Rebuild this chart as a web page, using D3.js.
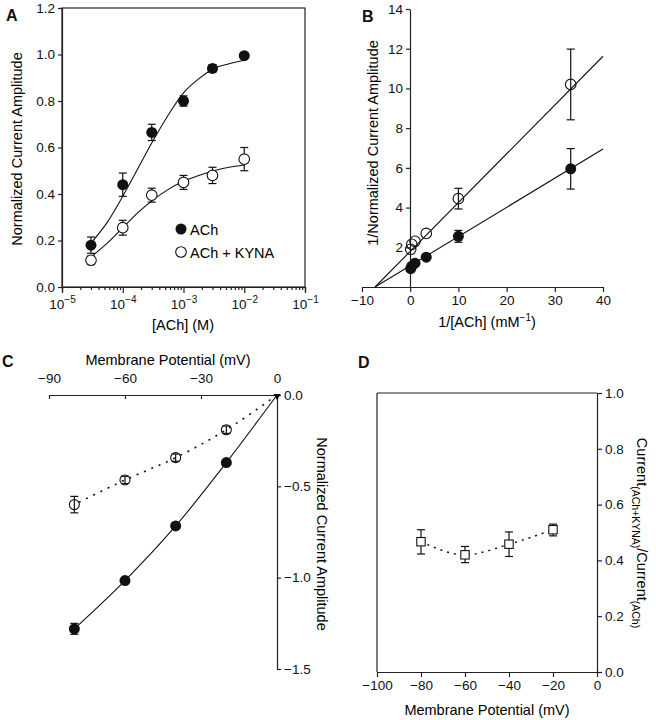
<!DOCTYPE html>
<html>
<head>
<meta charset="utf-8">
<script src="https://cdn.jsdelivr.net/npm/d3@7"></script>
<style>
  body { margin: 0; background: #fff; }
  svg { font-family: "Liberation Sans", Arial, Helvetica, sans-serif; }
  .domain, .tick line { stroke: #222; }
  .tick text { fill: #111; }
</style>
</head>
<body>
<div id="fig"></div>
<script>
// ! Data

// Panel A: concentration-response (M)
var a_conc = [3e-5, 1e-4, 3e-4, 1e-3, 3e-3, 1e-2];
var a_ach = [0.18, 0.44, 0.665, 0.80, 0.94, 0.995];
var a_ach_err = [0.035, 0.05, 0.035, 0.022, 0.016, 0.006];
var a_kyna = [0.115, 0.255, 0.395, 0.45, 0.48, 0.55];
var a_kyna_err = [0.018, 0.032, 0.03, 0.03, 0.035, 0.05];
// fitted curves (log10 concentration)
var a_fit_logx = [-4.52, -4.25, -4.0, -3.75, -3.5, -3.25, -3.0, -2.75, -2.5, -2.25, -2.0];
var a_fit_ach = [0.19, 0.28, 0.39, 0.51, 0.63, 0.74, 0.835, 0.895, 0.94, 0.96, 0.975];
var a_fit_kyna = [0.13, 0.19, 0.255, 0.32, 0.375, 0.42, 0.455, 0.48, 0.50, 0.515, 0.525];
var a_decades = [1e-5, 1e-4, 1e-3, 1e-2, 1e-1];
var a_exponents = ["-5", "-4", "-3", "-2", "-1"];

// Panel B: double reciprocal
var b_inv = [0.1, 0.33, 1, 3.33, 10, 33.3];
var b_ach = [0.92, 1.05, 1.2, 1.5, 2.55, 5.95];
var b_ach_err = [0, 0, 0, 0, 0.3, 1.02];
var b_kyna = [1.9, 2.15, 2.3, 2.7, 4.45, 10.2];
var b_kyna_err = [0, 0, 0, 0, 0.52, 1.78];
var b_line_x = [-7.3, 40];
var b_line_ach = [0, 6.95];
var b_line_kyna = [0, 11.62];

// Panel C: I-V relation
var c_v = [0, -20, -40, -60, -80];
var c_ach = [0, -0.37, -0.717, -1.016, -1.28];
var c_ach_err = [0, 0.015, 0.015, 0.015, 0.03];
var c_kyna = [0, -0.19, -0.343, -0.465, -0.60];
var c_kyna_err = [0, 0.02, 0.02, 0.02, 0.045];

// Panel D: ratio
var d_v = [-80, -60, -40, -20];
var d_ratio = [0.467, 0.42, 0.458, 0.51];
var d_err_lo = [0.423, 0.392, 0.414, 0.488];
var d_err_hi = [0.51, 0.45, 0.502, 0.53];

// ! Canvas
var svg = d3.select("#fig").append("svg")
  .attr("width", 656).attr("height", 720);

var tick_font = "13.5px", title_font = "14.5px";

function errbar(g, x, y1, y2) {
  g.append("line").attr("x1", x).attr("x2", x).attr("y1", y1).attr("y2", y2)
    .attr("stroke", "#111").attr("stroke-width", 1.2);
  [y1, y2].forEach(function (y) {
    g.append("line").attr("x1", x - 4).attr("x2", x + 4).attr("y1", y).attr("y2", y)
      .attr("stroke", "#111").attr("stroke-width", 1.2);
  });
}

function panelLabel(txt, x, y) {
  svg.append("text").attr("x", x).attr("y", y).text(txt)
    .style("font-weight", "bold").style("font-size", "16px").attr("fill", "#111");
}

function styleAxis(g) {
  g.selectAll(".domain").attr("stroke-width", 1.2);
  g.selectAll(".tick line").attr("stroke-width", 1.2);
  g.selectAll(".tick text").style("font-size", tick_font);
}

// ! Panel A
var xA = d3.scaleLog().domain([1e-5, 1e-1]).range([62, 305]);
var yA = d3.scaleLinear().domain([0, 1.2]).range([287, 8]);
var gA = svg.append("g");

gA.append("rect").attr("x", 62).attr("y", yA(1.2)).attr("width", 305 - 62).attr("height", 287 - yA(1.2))
  .attr("fill", "none").attr("stroke", "#222").attr("stroke-width", 1.2);

var minorA = [];
a_decades.slice(0, 4).forEach(function (d) {
  for (var k = 2; k < 10; k++) minorA.push(d * k);
});
gA.append("g").attr("transform", "translate(0,287)")
  .call(d3.axisBottom(xA).tickValues(minorA).tickSize(3).tickFormat(""))
  .call(styleAxis);
var axA = gA.append("g").attr("transform", "translate(0,287)")
  .call(d3.axisBottom(xA).tickValues(a_decades).tickSize(6).tickPadding(5).tickFormat(""))
  .call(styleAxis);
axA.selectAll(".tick").append("text")
  .attr("fill", "#111").attr("y", 22).attr("text-anchor", "middle").style("font-size", tick_font)
  .each(function (d, i) {
    var t = d3.select(this);
    t.append("tspan").text("10");
    t.append("tspan").attr("dy", -6).style("font-size", "10px").text(a_exponents[i].replace("-", "\u2212"));
  });
gA.append("g").attr("transform", "translate(62,0)")
  .call(d3.axisLeft(yA).tickValues(d3.range(0, 1.21, 0.2)).tickSize(4).tickFormat(d3.format(".1f")))
  .call(styleAxis);

gA.append("text").attr("x", 183).attr("y", 330).attr("text-anchor", "middle")
  .style("font-size", title_font).text("[ACh] (M)");
gA.append("text").attr("transform", "translate(22,149) rotate(-90)").attr("text-anchor", "middle")
  .style("font-size", title_font).text("Normalized Current Amplitude");

var lineA = d3.line()
  .x(function (d) { return xA(Math.pow(10, d[0])); })
  .y(function (d) { return yA(d[1]); })
  .curve(d3.curveMonotoneX);
gA.append("path").attr("d", lineA(d3.zip(a_fit_logx, a_fit_ach)))
  .attr("fill", "none").attr("stroke", "#111").attr("stroke-width", 1.1);
gA.append("path").attr("d", lineA(d3.zip(a_fit_logx, a_fit_kyna)))
  .attr("fill", "none").attr("stroke", "#111").attr("stroke-width", 1.1);

a_conc.forEach(function (c, i) {
  errbar(gA, xA(c), yA(a_ach[i] + a_ach_err[i]), yA(a_ach[i] - a_ach_err[i]));
  errbar(gA, xA(c), yA(a_kyna[i] + a_kyna_err[i]), yA(a_kyna[i] - a_kyna_err[i]));
});
gA.selectAll(".kyna").data(a_conc).enter().append("circle")
  .attr("cx", function (d) { return xA(d); })
  .attr("cy", function (d, i) { return yA(a_kyna[i]); })
  .attr("r", 5.3).attr("fill", "#fff").attr("stroke", "#111").attr("stroke-width", 1.1);
gA.selectAll(".ach").data(a_conc).enter().append("circle")
  .attr("cx", function (d) { return xA(d); })
  .attr("cy", function (d, i) { return yA(a_ach[i]); })
  .attr("r", 5.5).attr("fill", "#111");

// legend
gA.append("circle").attr("cx", 181).attr("cy", 229).attr("r", 5.5).attr("fill", "#111");
gA.append("text").attr("x", 190).attr("y", 234.5).style("font-size", "14.5px").text("ACh");
gA.append("circle").attr("cx", 181).attr("cy", 252).attr("r", 5.3).attr("fill", "#fff")
  .attr("stroke", "#111").attr("stroke-width", 1.1);
gA.append("text").attr("x", 190).attr("y", 257.5).style("font-size", "14.5px").text("ACh + KYNA");

panelLabel("A", 6, 21);

// ! Panel B
var xB = d3.scaleLinear().domain([-10, 40]).range([362, 603]);
var yB = d3.scaleLinear().domain([0, 14]).range([287, 9]);
var gB = svg.append("g");

gB.append("g").attr("transform", "translate(0,287)")
  .call(d3.axisBottom(xB).tickValues(d3.range(-10, 41, 10)).tickSize(5).tickSizeOuter(0)
    .tickFormat(function (d) { return d < 0 ? "\u2212" + Math.abs(d) : d; }))
  .call(styleAxis);
gB.append("g").attr("transform", "translate(410,0)")
  .call(d3.axisLeft(yB).tickValues(d3.range(2, 15, 2)).tickSize(4).tickSizeOuter(0))
  .call(styleAxis);

var tB = gB.append("text").attr("x", 487).attr("y", 327).attr("text-anchor", "middle").style("font-size", title_font);
tB.append("tspan").text("1/[ACh] (mM");
tB.append("tspan").attr("dy", -6).style("font-size", "10px").text("\u22121");
tB.append("tspan").attr("dy", 6).text(")");
gB.append("text").attr("transform", "translate(378,143) rotate(-90)").attr("text-anchor", "middle")
  .style("font-size", title_font).text("1/Normalized Current Amplitude");

[b_line_ach, b_line_kyna].forEach(function (ys) {
  gB.append("line")
    .attr("x1", xB(b_line_x[0])).attr("y1", yB(ys[0]))
    .attr("x2", xB(b_line_x[1])).attr("y2", yB(ys[1]))
    .attr("stroke", "#111").attr("stroke-width", 1.1);
});

b_inv.forEach(function (v, i) {
  if (b_ach_err[i] > 0) errbar(gB, xB(v), yB(b_ach[i] + b_ach_err[i]), yB(b_ach[i] - b_ach_err[i]));
  if (b_kyna_err[i] > 0) errbar(gB, xB(v), yB(b_kyna[i] + b_kyna_err[i]), yB(b_kyna[i] - b_kyna_err[i]));
});
gB.selectAll(".kyna").data(b_inv).enter().append("circle")
  .attr("cx", function (d) { return xB(d); })
  .attr("cy", function (d, i) { return yB(b_kyna[i]); })
  .attr("r", 5.3).attr("fill", "none").attr("stroke", "#111").attr("stroke-width", 1.1);
gB.selectAll(".ach").data(b_inv).enter().append("circle")
  .attr("cx", function (d) { return xB(d); })
  .attr("cy", function (d, i) { return yB(b_ach[i]); })
  .attr("r", 5.5).attr("fill", "#111");

panelLabel("B", 362, 22);

// ! Panel C
var xC = d3.scaleLinear().domain([-90, 0]).range([49, 277]);
var yC = d3.scaleLinear().domain([-1.5, 0]).range([669, 395]);
var gC = svg.append("g");

gC.append("g").attr("transform", "translate(0,395)")
  .call(d3.axisTop(xC).tickValues([-90, -60, -30, 0]).tickSize(-4).tickSizeOuter(0).tickPadding(12)
    .tickFormat(function (d) { return d < 0 ? "\u2212" + Math.abs(d) : d; }))
  .call(styleAxis);
gC.append("g").attr("transform", "translate(277,0)")
  .call(d3.axisRight(yC).tickValues([-1.5, -1.0, -0.5, 0]).tickSize(4).tickSizeOuter(0)
    .tickFormat(function (d) { return d < 0 ? "\u2212" + Math.abs(d).toFixed(1) : d.toFixed(1); }))
  .call(styleAxis);

gC.append("text").attr("x", 168).attr("y", 365).attr("text-anchor", "middle")
  .style("font-size", title_font).text("Membrane Potential (mV)");
gC.append("text").attr("transform", "translate(317,534) rotate(90)").attr("text-anchor", "middle")
  .style("font-size", title_font).text("Normalized Current Amplitude");

var lineC = d3.line()
  .x(function (d) { return xC(d[0]); })
  .y(function (d) { return yC(d[1]); })
  .curve(d3.curveMonotoneX);
gC.append("path").attr("d", lineC(d3.zip(c_v, c_ach)))
  .attr("fill", "none").attr("stroke", "#111").attr("stroke-width", 1.1);
gC.append("path").attr("d", lineC(d3.zip(c_v, c_kyna)))
  .attr("fill", "none").attr("stroke", "#111").attr("stroke-width", 1.6)
  .attr("stroke-dasharray", "2,6");

c_v.forEach(function (v, i) {
  if (v === 0) return;
  errbar(gC, xC(v), yC(c_ach[i] + c_ach_err[i]), yC(c_ach[i] - c_ach_err[i]));
  errbar(gC, xC(v), yC(c_kyna[i] + c_kyna_err[i]), yC(c_kyna[i] - c_kyna_err[i]));
});
gC.selectAll(".kyna").data(c_v.slice(1)).enter().append("circle")
  .attr("cx", function (d) { return xC(d); })
  .attr("cy", function (d, i) { return yC(c_kyna[i + 1]); })
  .attr("r", 5).attr("fill", "none").attr("stroke", "#111").attr("stroke-width", 1.1);
gC.selectAll(".ach").data(c_v.slice(1)).enter().append("circle")
  .attr("cx", function (d) { return xC(d); })
  .attr("cy", function (d, i) { return yC(c_ach[i + 1]); })
  .attr("r", 5.5).attr("fill", "#111");
// the origin point
gC.append("path").attr("d", d3.symbol(d3.symbolTriangle, 22)())
  .attr("transform", "translate(" + xC(0) + "," + (yC(0) + 1) + ") rotate(180)").attr("fill", "#111");

panelLabel("C", 2, 367);

// ! Panel D
var xD = d3.scaleLinear().domain([-100, 0]).range([377, 597]);
var yD = d3.scaleLinear().domain([0, 1]).range([672, 393]);
var gD = svg.append("g");

gD.append("line").attr("x1", 377).attr("x2", 597).attr("y1", 393).attr("y2", 393)
  .attr("stroke", "#222").attr("stroke-width", 1.2);
gD.append("line").attr("x1", 377).attr("x2", 377).attr("y1", 393).attr("y2", 672)
  .attr("stroke", "#222").attr("stroke-width", 1.2);
gD.append("g").attr("transform", "translate(0,672)")
  .call(d3.axisBottom(xD).tickValues(d3.range(-100, 1, 20)).tickSize(5).tickSizeOuter(0)
    .tickFormat(function (d) { return d < 0 ? "\u2212" + Math.abs(d) : d; }))
  .call(styleAxis);
gD.append("g").attr("transform", "translate(597,0)")
  .call(d3.axisRight(yD).tickValues(d3.range(0, 1.01, 0.2)).tickSize(5).tickSizeOuter(0)
    .tickFormat(d3.format(".1f")))
  .call(styleAxis);

gD.append("text").attr("x", 487).attr("y", 715).attr("text-anchor", "middle")
  .style("font-size", title_font).text("Membrane Potential (mV)");
var tD = gD.append("text").attr("transform", "translate(637,533) rotate(90)").attr("text-anchor", "middle")
  .style("font-size", title_font);
tD.append("tspan").text("Current");
tD.append("tspan").attr("dy", 5).style("font-size", "10.5px").text("(ACh+KYNA)");
tD.append("tspan").attr("dy", -5).text("/Current");
tD.append("tspan").attr("dy", 5).style("font-size", "10.5px").text("(ACh)");

var lineD = d3.line()
  .x(function (d) { return xD(d[0]); })
  .y(function (d) { return yD(d[1]); })
  .curve(d3.curveMonotoneX);
gD.append("path").attr("d", lineD(d3.zip(d_v, d_ratio)))
  .attr("fill", "none").attr("stroke", "#111").attr("stroke-width", 1.5)
  .attr("stroke-dasharray", "2,5");
d_v.forEach(function (v, i) {
  errbar(gD, xD(v), yD(d_err_hi[i]), yD(d_err_lo[i]));
});
gD.selectAll(".sq").data(d_v).enter().append("rect")
  .attr("x", function (d) { return xD(d) - 4.2; })
  .attr("y", function (d, i) { return yD(d_ratio[i]) - 4.2; })
  .attr("width", 8.4).attr("height", 8.4)
  .attr("fill", "#fff").attr("stroke", "#111").attr("stroke-width", 1.1);

panelLabel("D", 358, 368);
</script>
</body>
</html>
